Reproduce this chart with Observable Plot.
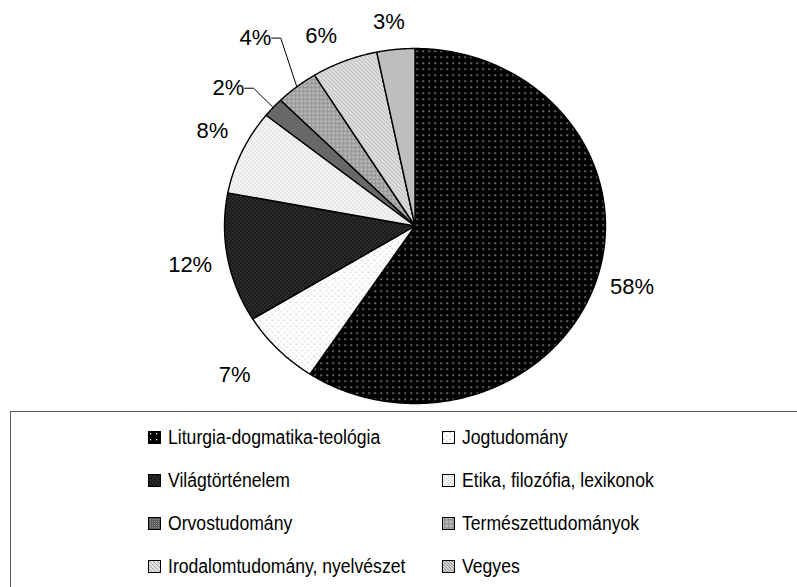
<!DOCTYPE html>
<html><head><meta charset="utf-8">
<script src="https://cdn.jsdelivr.net/npm/d3@7"></script>
<script src="https://cdn.jsdelivr.net/npm/@observablehq/plot@0.6"></script>
<style>
body{margin:0;background:#fff;font-family:"Liberation Sans",Arial,sans-serif;}
#wrap{position:relative;width:797px;height:587px;overflow:hidden;background:#fff;}
#legend{position:absolute;left:10px;top:411px;width:820px;height:220px;border:1.5px solid #5a5a5a;box-sizing:border-box;}
.item{position:absolute;display:flex;align-items:center;height:24px;font-size:20px;color:#000;white-space:nowrap;}
.item svg{margin-right:7px;flex:none;}
.item span{display:inline-block;transform:scaleX(0.88);transform-origin:0 50%;}
</style></head><body>
<svg width="0" height="0" style="position:absolute"><defs>
<pattern id="p0" width="6" height="6" patternUnits="userSpaceOnUse"><rect width="6" height="6" fill="#000"/><rect x="2" y="2" width="1.3" height="1.3" fill="#e6e6e6"/></pattern>
<pattern id="p1" width="6" height="6" patternUnits="userSpaceOnUse"><rect width="6" height="6" fill="#fff"/><rect x="1" y="1" width="1.6" height="1.6" fill="#cfcfcf"/><rect x="4" y="4" width="1.6" height="1.6" fill="#dcdcdc"/></pattern>
<pattern id="p2" width="4" height="4" patternUnits="userSpaceOnUse"><rect width="4" height="4" fill="#1c1c1c"/><rect x="0" y="0" width="1" height="1" fill="#5a5a5a"/><rect x="2" y="2" width="1" height="1" fill="#4a4a4a"/></pattern>
<pattern id="p3" width="4" height="4" patternUnits="userSpaceOnUse"><rect width="4" height="4" fill="#f3f3f3"/><rect x="0" y="0" width="1" height="1" fill="#bdbdbd"/><rect x="2" y="2" width="1" height="1" fill="#c8c8c8"/></pattern>
<pattern id="p4" width="2" height="2" patternUnits="userSpaceOnUse"><rect width="2" height="2" fill="#5c5c5c"/><rect x="0" y="0" width="1" height="1" fill="#8c8c8c"/></pattern>
<pattern id="p5" width="4" height="4" patternUnits="userSpaceOnUse"><rect width="4" height="4" fill="#a0a0a0"/><rect x="0" y="0" width="2" height="2" fill="#bdbdbd"/><rect x="2" y="2" width="1" height="1" fill="#7d7d7d"/></pattern>
<pattern id="p6" width="4" height="4" patternUnits="userSpaceOnUse"><rect width="4" height="4" fill="#e2e2e2"/><path d="M0,0L4,4M-1,3L1,5M3,-1L5,1" stroke="#a8a8a8" stroke-width="1"/></pattern>
<pattern id="p7" width="3" height="3" patternUnits="userSpaceOnUse"><rect width="3" height="3" fill="#d2d2d2"/><path d="M0,0L3,3M-1,2L1,4M2,-1L4,1" stroke="#8e8e8e" stroke-width="0.9"/></pattern>
</defs></svg>
<div id="wrap"><div id="chart"></div><div id="legend"></div></div>
<script>
// Data
const categories = [
  "Liturgia-dogmatika-teológia",
  "Jogtudomány",
  "Világtörténelem",
  "Etika, filozófia, lexikonok",
  "Orvostudomány",
  "Természettudományok",
  "Irodalomtudomány, nyelvészet",
  "Vegyes"
];
const shares = [59.0, 6.9, 11.7, 7.7, 1.8, 3.6, 5.6, 3.2];
const percentLabels = ["58%", "7%", "12%", "8%", "2%", "4%", "6%", "3%"];

// Layout options (not data)
const labelRadius = [1.19, 1.265, 1.2, 1.19, 1.25, 1.35, 1.18, 1.16];
const labelAngleShift = [0, 2.5, 0, 2, -3.5, 0, -3, -1]; // degrees
const patternIds = categories.map((_, i) => `p${i}`);
const xRange = [224, 605], yRange = [403, 48];
const pxX = 2 / (xRange[1] - xRange[0]);

const data = categories.map((c, i) => ({i, category: c, share: shares[i], label: percentLabels[i]}));
const arcs = d3.pie().sort(null).value(d => d.share)(data);

const slices = arcs.map((a, i) => {
  const pts = [{x: 0, y: 0}];
  const n = Math.max(4, Math.ceil((a.endAngle - a.startAngle) / 0.006));
  for (let k = 0; k <= n; k++) {
    const t = a.startAngle + (a.endAngle - a.startAngle) * k / n;
    pts.push({x: Math.sin(t), y: Math.cos(t)});
  }
  return pts;
});

const labels = arcs.map((a, i) => {
  const m = (a.startAngle + a.endAngle) / 2;
  const lm = m + labelAngleShift[i] * Math.PI / 180;
  return {x: labelRadius[i] * Math.sin(lm), y: labelRadius[i] * Math.cos(lm), text: a.data.label, m, i};
});

const leaders = labels.filter(l => shares[l.i] < 5 && labelRadius[l.i] >= 1.25).map(l => {
  const half = l.text.length * 0.5 * 22 * 0.56 + 4;
  const x0 = l.x + half * pxX, x1 = x0 + 9 * pxX;
  return [{x: x0, y: l.y}, {x: x1, y: l.y}, {x: Math.sin(l.m), y: Math.cos(l.m)}];
});

const chart = Plot.plot({
  width: 797,
  height: 411,
  margin: 0,
  x: {domain: [-1, 1], range: xRange, axis: null},
  y: {domain: [-1, 1], range: yRange, axis: null},
  style: {background: "#fff", fontFamily: "'Liberation Sans', Arial, sans-serif"},
  marks: [
    ...slices.map((pts, i) => Plot.line(pts, {x: "x", y: "y", fill: `url(#${patternIds[i]})`, stroke: "#000", strokeWidth: 1.4, curve: "linear-closed"})),
    ...leaders.map(pts => Plot.line(pts, {x: "x", y: "y", stroke: "#000", strokeWidth: 1})),
    Plot.text(labels, {x: "x", y: "y", text: "text", fontSize: 22, fill: "#000"})
  ]
});
document.getElementById("chart").appendChild(chart);

const legend = document.getElementById("legend");
categories.forEach((c, i) => {
  const col = i % 2, row = Math.floor(i / 2);
  const div = document.createElement("div");
  div.className = "item";
  div.style.left = (137 + col * 294) + "px";
  div.style.top = (13 + row * 43) + "px";
  div.innerHTML = `<svg width="13" height="13"><rect x="0.5" y="0.5" width="12" height="12" fill="url(#${patternIds[i]})" stroke="#000" stroke-width="1"/></svg><span>${c}</span>`;
  legend.appendChild(div);
});
</script>
</body></html>
